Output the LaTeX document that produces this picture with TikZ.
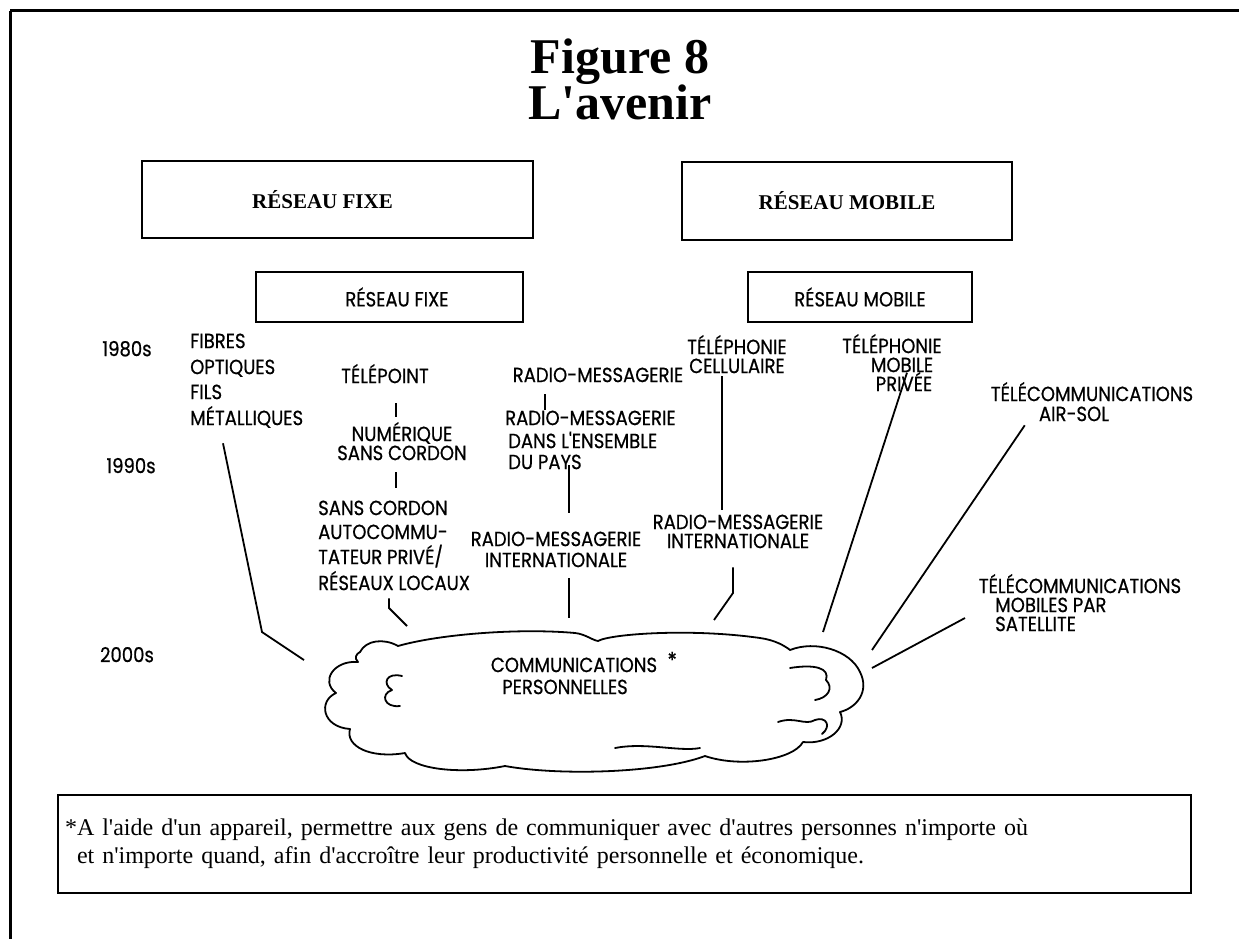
\documentclass[tikz,border=0pt]{standalone}
\usepackage{fontspec}
\setmainfont{Liberation Serif}
\newfontfamily\labfont[FakeStretch=0.88,FakeBold=0.6]{Poppins}
\usetikzlibrary{calc}
\newcommand{\myapos}{\textquotesingle}
\begin{document}
\begin{tikzpicture}[x=1pt,y=-1pt,
  lbl/.style={font=\labfont\fontsize{20.5}{20.5}\selectfont, inner sep=0pt, text height=14.2pt, text depth=0pt},
  conn/.style={line width=1.8pt},
  bigbox/.style={draw, line width=2.2pt, inner sep=0pt, font=\bfseries\fontsize{21}{21}\selectfont},
  smallbox/.style={draw, line width=1.8pt, inner sep=0pt, font=\labfont\fontsize{20.5}{20.5}\selectfont},
  titletext/.style={font=\bfseries\fontsize{50}{50}\selectfont, inner sep=0pt, text height=33pt, text depth=0pt},
  cloudline/.style={line width=1.8pt, line cap=round, line join=round}]
\useasboundingbox (0,0) rectangle (1239,939);

% page frame (top and left rules)
\draw[line width=3pt] (10,11) -- (1239,11);
\draw[line width=3pt] (10,11) -- (10,939);

% title
\node[titletext] (fig) at (620,57) {Figure 8};
\node[titletext] (avenir) at (620,103) {L\myapos avenir};

% network boxes
\node[bigbox, minimum width=391pt, minimum height=77pt] (bfixe) at (337.5,199.5) {\hspace*{-30pt}RÉSEAU FIXE};
\node[bigbox, minimum width=330pt, minimum height=78pt] (bmobile) at (847,201) {RÉSEAU MOBILE};
\node[smallbox, minimum width=267pt, minimum height=50pt] (sfixe) at (389.5,297) {\hspace*{15pt}RÉSEAU FIXE};
\node[smallbox, minimum width=224pt, minimum height=50pt] (smobile) at (860,297) {RÉSEAU MOBILE};

% decades
\node[lbl] (y80) at (127,349) {1980s};
\node[lbl] (y90) at (131,466) {1990s};
\node[lbl] (y00) at (127,655) {2000s};

% wired media
\node[lbl, anchor=west] (fib1) at (190,341) {FIBRES};
\node[lbl, anchor=west] (fib2) at (190,367) {OPTIQUES};
\node[lbl, anchor=west] (fib3) at (190,392) {FILS};
\node[lbl, anchor=west] (fib4) at (190,418) {MÉTALLIQUES};

% cordless column
\node[lbl] (tele) at (385,376) {TÉLÉPOINT};
\node[lbl] (num1) at (402,434) {NUMÉRIQUE};
\node[lbl] (num2) at (402,453) {SANS CORDON};
\node[lbl, anchor=west] (sc1) at (318,508) {SANS CORDON};
\node[lbl, anchor=west] (ac) at (318,532) {AUTOCOMMU-};
\node[lbl, anchor=west] (tpr) at (318,557) {TATEUR PRIVÉ/};
\node[lbl, anchor=west] (rl) at (318,583) {RÉSEAUX LOCAUX};

% paging column
\node[lbl] (rm1) at (598,375) {RADIO-MESSAGERIE};
\node[lbl, anchor=west] (rm2) at (505,418) {RADIO-MESSAGERIE};
\node[lbl, anchor=west] (dans) at (508,441) {DANS L'ENSEMBLE};
\node[lbl, anchor=west] (pays) at (508,462) {DU PAYS};
\node[lbl] (rm3) at (556,539) {RADIO-MESSAGERIE};
\node[lbl] (int1) at (556,560) {INTERNATIONALE};

% cellular column
\node[lbl] (tc1) at (737,347) {TÉLÉPHONIE};
\node[lbl] (tc2) at (737,366) {CELLULAIRE};
\node[lbl] (rm4) at (738,522) {RADIO-MESSAGERIE};
\node[lbl] (int2) at (738,541) {INTERNATIONALE};

% private mobile
\node[lbl] (tp1) at (892,346) {TÉLÉPHONIE};
\node[lbl] (tp2) at (902,365) {MOBILE};
\node[lbl] (tp3) at (904,384) {PRIVÉE};

% air-ground
\node[lbl] (ta1) at (1092,394) {TÉLÉCOMMUNICATIONS};
\node[lbl] (ta2) at (1074,414) {AIR-SOL};

% satellite
\node[lbl] (ts1) at (1080,586) {TÉLÉCOMMUNICATIONS};
\node[lbl, anchor=west] (ts2) at (995,605) {MOBILES PAR};
\node[lbl, anchor=west] (ts3) at (995,624) {SATELLITE};

% personal communications cloud
\draw[cloudline]
  (360,652) .. controls (366,640) and (384,638) .. (398,646)
  .. controls (440,634) and (520,628) .. (575,633)
  .. controls (585,634) and (592,640) .. (598,641)
  .. controls (610,634) and (690,628) .. (760,638)
  .. controls (775,640) and (785,646) .. (790,650)
  .. controls (815,640) and (850,650) .. (860,672)
  .. controls (870,692) and (856,708) .. (840,712)
  .. controls (848,728) and (828,745) .. (803,742)
  .. controls (793,760) and (740,768) .. (705,756)
  .. controls (660,773) and (560,776) .. (505,766)
  .. controls (460,775) and (410,769) .. (405,753)
  .. controls (370,759) and (345,746) .. (350,729)
  .. controls (322,727) and (318,701) .. (336,693)
  .. controls (320,681) and (334,660) .. (358,662)
  .. controls (354,658) and (356,654) .. (360,652) -- cycle;
\draw[cloudline]
  (402,676) .. controls (386,672) and (382,684) .. (392,690)
  .. controls (380,694) and (384,708) .. (400,706);
\draw[cloudline]
  (790,668) .. controls (815,664) and (830,668) .. (826,680)
  .. controls (834,688) and (828,698) .. (815,700);
\draw[cloudline]
  (778,722) .. controls (795,716) and (805,726) .. (815,720)
  .. controls (826,716) and (832,726) .. (822,734);
\draw[cloudline]
  (615,748) .. controls (645,742) and (680,752) .. (700,748);
\node[lbl] (comm) at (574,665) {COMMUNICATIONS};
\node[lbl] (pers) at (565,687) {PERSONNELLES};
\node[font=\labfont\fontsize{22}{22}\selectfont, inner sep=0pt, anchor=west] (ast) at ($(comm.east)+(10,-5)$) {*};

% line ends and bends
\coordinate (bx) at (396,0);
\coordinate (cx1) at (545,0);
\coordinate (cx2) at (569,0);
\coordinate (dx) at (722,0);
\coordinate (fibbend) at (262,632);
\coordinate (fibend) at (304,660);
\coordinate (rlbend) at (389,608);
\coordinate (rlend) at (407,626);
\coordinate (rmend) at (569,618);
\coordinate (cellbend) at (733,593);
\coordinate (cellend) at (714,620);
\coordinate (privend) at (823,632);
\coordinate (airend) at (872,650);
\coordinate (satend) at (872,668);

% connectors
\draw[conn] ($(fib4.south west)+(33,18)$) -- (fibbend) -- (fibend);
\draw[conn] ($(tele.south -| bx)+(0,20)$) -- ($(num1.north -| bx)+(0,-10)$);
\draw[conn] ($(num2.south -| bx)+(0,12)$) -- ($(sc1.north -| bx)+(0,-13)$);
\draw[conn] ($(rl.south -| rlbend)+(0,8)$) -- (rlbend) -- (rlend);
\draw[conn] ($(rm1.south -| cx1)+(0,12)$) -- ($(rm2.north -| cx1)+(0,-1)$);
\draw[conn] ($(pays.south -| cx2)+(0,-4)$) -- ($(rm3.north -| cx2)+(0,-19)$);
\draw[conn] ($(int1.south -| cx2)+(0,11)$) -- (rmend);
\draw[conn] ($(tc2.south -| dx)+(0,3)$) -- ($(rm4.north -| dx)+(0,-5)$);
\draw[conn] ($(int2.south -| cellbend)+(0,19)$) -- (cellbend) -- (cellend);
\draw[conn] ($(tp3.north)+(3,-4)$) -- (privend);
\draw[conn] ($(ta2.south west)+(-14,4)$) -- (airend);
\draw[conn] ($(ts3.west)+(-30,-6)$) -- (satend);

% footnote
\node[draw, line width=1.3pt, minimum width=1133pt, minimum height=98pt, text width=1119pt, align=left, inner xsep=7pt,
      font=\fontsize{24}{28}\selectfont] (foot) at (624.5,844)
  {*A l\myapos aide d\myapos un appareil, permettre aux gens de communiquer avec d\myapos autres personnes n\myapos importe où\\
   \hspace*{12pt}et n\myapos importe quand, afin d\myapos accroître leur productivité personnelle et économique.};
\end{tikzpicture}
\end{document}
